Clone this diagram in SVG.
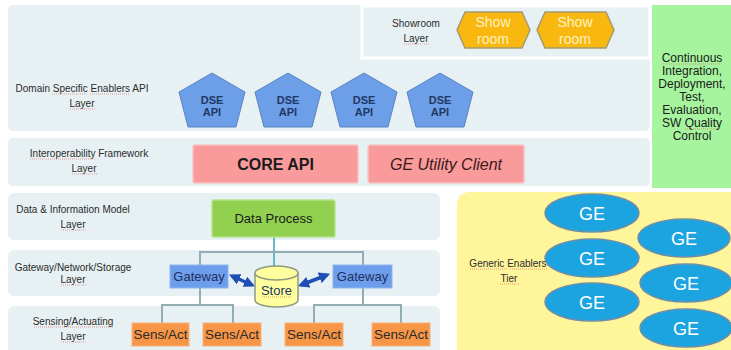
<svg xmlns="http://www.w3.org/2000/svg" width="731" height="350" viewBox="0 0 731 350">
<style>
text{font-family:"Liberation Sans",Arial,sans-serif;}
.band{fill:#e7f1f4;}
.lbl{font-size:10px;fill:#2b2b2b;text-anchor:middle;}
.sq{stroke:#d9534f;stroke-width:1;stroke-dasharray:1 1;fill:none;opacity:.55;}
.hex{fill:#f9b80f;stroke:#a39b72;stroke-width:1.5;}
.hext{font-size:14px;fill:#fff2c2;text-anchor:middle;}
.pent{fill:#6d9ee8;stroke:#5b84c4;stroke-width:1;}
.pt{font-size:11px;font-weight:bold;fill:#1f3864;text-anchor:middle;}
.pink{fill:#f99b9b;stroke:#f6c4c4;stroke-width:1.5;}
.gw{fill:#6d9eeb;stroke:#8fb4ef;stroke-width:1;}
.gwt{font-size:13px;fill:#1f2f5f;text-anchor:middle;}
.sa{fill:#f79646;stroke:#f9b27a;stroke-width:1;}
.sat{font-size:13.5px;fill:#2b2b2b;text-anchor:middle;}
.ge{fill:#1ca4e0;stroke:#6f8ea4;stroke-width:1.5;}
.get{font-size:18px;fill:#ffffff;text-anchor:middle;}
.tree{stroke:#93adb3;stroke-width:2;fill:none;}
.arr{stroke:#1f4fb5;stroke-width:3.5;fill:none;marker-start:url(#ah);marker-end:url(#ah);}
.gt{font-size:12px;fill:#1a1a1a;text-anchor:middle;}
</style>
<defs>
<marker id="ah" viewBox="0 0 10 10" refX="7" refY="5" markerWidth="3.2" markerHeight="3.2" orient="auto-start-reverse" markerUnits="strokeWidth">
<path d="M0,0 L10,5 L0,10 z" fill="#1f4fb5"/>
</marker>
</defs>
<rect width="731" height="350" fill="#ffffff"/>

<g id="domain-layer">
<rect class="band" x="8" y="5" width="642" height="126" rx="5"/>
<text class="lbl" x="82" y="92">Domain Specific Enablers API</text>
<text class="lbl" x="82" y="107">Layer</text>
<path class="sq" d="M52 94 H88 M90 94 H130 M70 109 H95"/>
</g>
<g id="showroom-layer">
<rect class="band" x="362" y="6" width="288" height="52" stroke="#ffffff" stroke-width="3"/>
<text class="lbl" x="416" y="27">Showroom</text>
<text class="lbl" x="416" y="42">Layer</text>
<path class="sq" d="M404 44 H429"/>
</g>
<g id="interop-layer">
<rect class="band" x="8" y="138" width="642" height="48" rx="5"/>
<text class="lbl" x="89" y="157">Interoperability Framework</text>
<text class="lbl" x="84" y="172">Layer</text>
<path class="sq" d="M30 159 H96 M72 174 H97"/>
</g>
<g id="data-layer">
<rect class="band" x="8" y="193" width="432" height="47" rx="6"/>
<text class="lbl" x="73" y="213">Data &amp; Information Model</text>
<text class="lbl" x="73" y="228">Layer</text>
<path class="sq" d="M61 230 H86"/>
</g>
<g id="gateway-layer">
<rect class="band" x="8" y="250" width="432" height="46" rx="6"/>
<text class="lbl" x="73" y="271">Gateway/Network/Storage</text>
<text class="lbl" x="73" y="283">Layer</text>
<path class="sq" d="M61 285 H86"/>
</g>
<g id="sensing-layer">
<rect class="band" x="8" y="306" width="432" height="50" rx="6"/>
<text class="lbl" x="73" y="325">Sensing/Actuating</text>
<text class="lbl" x="73" y="340">Layer</text>
<path class="sq" d="M34 327 H113 M61 342 H86"/>
</g>

<g id="ci-column">
<rect x="652" y="5" width="79" height="183" fill="#a6f49e"/>
<text class="gt" x="692" y="62">Continuous</text>
<text class="gt" x="692" y="75">Integration,</text>
<text class="gt" x="692" y="88">Deployment,</text>
<text class="gt" x="692" y="101">Test,</text>
<text class="gt" x="692" y="114">Evaluation,</text>
<text class="gt" x="692" y="127">SW Quality</text>
<text class="gt" x="692" y="140">Control</text>
<path class="sq" d="M663 64 H721 M685 129 H721"/>
</g>

<g id="ge-tier">
<rect x="457" y="192" width="285" height="170" rx="12" fill="#fff59b"/>
<text class="lbl" x="508" y="267">Generic Enablers</text>
<text class="lbl" x="509" y="282">Tier</text>
<path class="sq" d="M470 269 H507 M510 269 H547 M500 284 H519"/>
</g>
<g id="ge1"><ellipse class="ge" cx="592" cy="213" rx="47" ry="19"/><text class="get" x="592" y="220">GE</text></g>
<g id="ge2"><ellipse class="ge" cx="592" cy="258" rx="47" ry="19"/><text class="get" x="592" y="265">GE</text></g>
<g id="ge3"><ellipse class="ge" cx="592" cy="302" rx="47" ry="19"/><text class="get" x="592" y="309">GE</text></g>
<g id="ge4"><ellipse class="ge" cx="684" cy="238" rx="46" ry="19"/><text class="get" x="684" y="245">GE</text></g>
<g id="ge5"><ellipse class="ge" cx="686" cy="283" rx="46" ry="19"/><text class="get" x="686" y="290">GE</text></g>
<g id="ge6"><ellipse class="ge" cx="686" cy="328" rx="46" ry="19"/><text class="get" x="686" y="335">GE</text></g>

<g id="showroom1">
<polygon class="hex" points="465,12 522,12 530,30 522,48 465,48 457,30"/>
<text class="hext" x="493" y="27">Show</text>
<text class="hext" x="493" y="44">room</text>
</g>
<g id="showroom2">
<polygon class="hex" points="545,12 606,12 614,30 606,48 545,48 537,30"/>
<text class="hext" x="575" y="27">Show</text>
<text class="hext" x="575" y="44">room</text>
</g>

<g id="dse1"><polygon class="pent" points="212,73 245,92 236,127 188,127 179,92"/><text class="pt" x="212" y="104">DSE</text><text class="pt" x="212" y="116">API</text></g>
<g id="dse2"><polygon class="pent" points="288,73 321,92 312,127 264,127 255,92"/><text class="pt" x="288" y="104">DSE</text><text class="pt" x="288" y="116">API</text></g>
<g id="dse3"><polygon class="pent" points="364,73 397,92 388,127 340,127 331,92"/><text class="pt" x="364" y="104">DSE</text><text class="pt" x="364" y="116">API</text></g>
<g id="dse4"><polygon class="pent" points="440,73 473,92 464,127 416,127 407,92"/><text class="pt" x="440" y="104">DSE</text><text class="pt" x="440" y="116">API</text></g>

<g id="core-api">
<rect class="pink" x="193" y="145" width="165" height="38" rx="2"/>
<text x="275.5" y="170" font-size="16" font-weight="bold" fill="#1a1a1a" text-anchor="middle">CORE API</text>
</g>
<g id="ge-utility-client">
<rect class="pink" x="368" y="145" width="156" height="38" rx="2"/>
<text x="446" y="170" font-size="16" font-style="italic" fill="#3a1a1a" text-anchor="middle">GE Utility Client</text>
</g>

<g id="connectors">
<line x1="274" y1="237" x2="274" y2="267" stroke="#3aa6b8" stroke-width="1.5"/>
<path class="tree" d="M200 265 V252 H363 V265"/>
<path class="tree" d="M200 288 V305 M162 323 V305 H233 V323"/>
<path class="tree" d="M363 288 V305 M314 323 V305 H401 V323"/>
<path class="arr" d="M232 276 L252 285"/>
<path class="arr" d="M301 285 L327 275"/>
</g>

<g id="data-process">
<rect x="212" y="200" width="123" height="37" rx="2" fill="#92d050" stroke="#b8e28c" stroke-width="1.5"/>
<text x="273.5" y="223" font-size="13" fill="#1a1a1a" text-anchor="middle">Data Process</text>
</g>

<g id="gateway-left"><rect class="gw" x="170" y="265" width="58" height="23"/><text class="gwt" x="199" y="281">Gateway</text></g>
<g id="gateway-right"><rect class="gw" x="333" y="265" width="59" height="23"/><text class="gwt" x="362.5" y="281">Gateway</text></g>

<g id="store">
<path d="M255 273 V300 A21.5 7 0 0 0 298 300 V273" fill="#ffff9e" stroke="#8d9a80" stroke-width="1.5"/>
<ellipse cx="276.5" cy="273" rx="21.5" ry="7" fill="#ffff9e" stroke="#8d9a80" stroke-width="1.5"/>
<text x="276.5" y="295" font-size="13" fill="#1f3864" text-anchor="middle">Store</text>
<path class="sq" d="M262 297 H292"/>
</g>

<g id="sa1"><rect class="sa" x="132" y="323" width="57" height="23"/><text class="sat" x="160.5" y="339">Sens/Act</text></g>
<g id="sa2"><rect class="sa" x="203" y="323" width="58" height="23"/><text class="sat" x="232" y="339">Sens/Act</text></g>
<g id="sa3"><rect class="sa" x="285" y="323" width="58" height="23"/><text class="sat" x="314" y="339">Sens/Act</text></g>
<g id="sa4"><rect class="sa" x="372" y="323" width="58" height="23"/><text class="sat" x="401" y="339">Sens/Act</text></g>
</svg>
